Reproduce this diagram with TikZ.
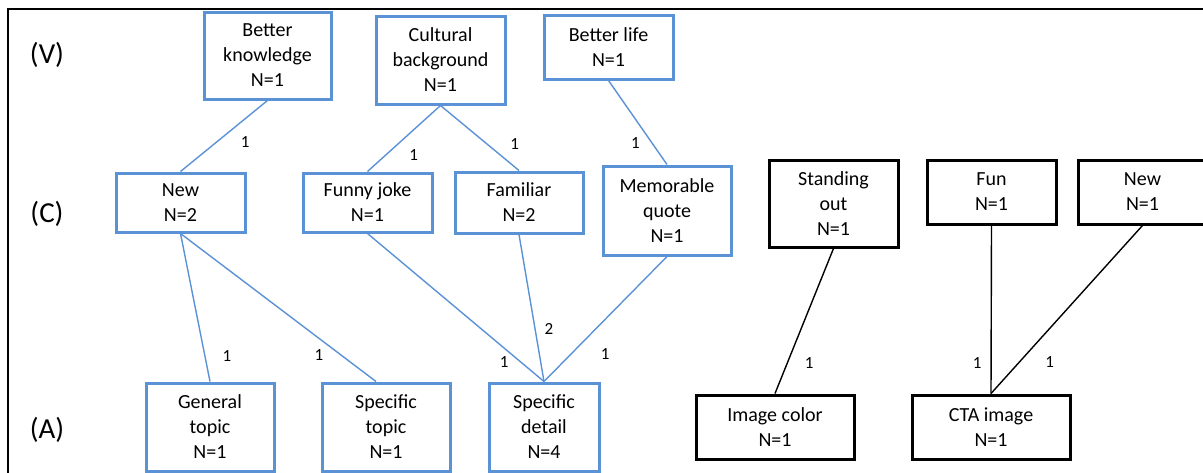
\documentclass[tikz,border=0pt]{standalone}
\usepackage{fontspec}
\setmainfont{Carlito}
\definecolor{boxblue}{RGB}{91,146,214}
\tikzset{
  bluebox/.style={draw=boxblue, line width=3pt, align=center, inner sep=0pt,
    font=\fontsize{20}{25}\selectfont, minimum width=#1},
  bluebox/.default=129pt,
  blackbox/.style={draw=black, line width=3pt, align=center, inner sep=0pt,
    font=\fontsize{20}{25}\selectfont, minimum width=#1},
  blackbox/.default=129pt,
  blueline/.style={draw=boxblue, line width=1.4pt},
  blackline/.style={draw=black, line width=1.4pt},
  cnt/.style={font=\fontsize{17}{19}\selectfont, inner sep=0pt},
  level/.style={font=\fontsize{29}{32}\selectfont, inner sep=0pt}
}
\begin{document}
\begin{tikzpicture}[x=1pt,y=-1pt]
\useasboundingbox (0,0) rectangle (1203,472);
\clip (0,0) rectangle (1203,472);
% outer frame
\draw[line width=2pt] (8,9) rectangle (1220,490);

% level labels
\node[level] (lv) at (47,55) {(V)};
\node[level] (lc) at (47,214) {(C)};
\node[level] (la) at (47,430) {(A)};

% values
\node[bluebox=127pt, minimum height=87pt] (bk) at (267.5,55.5) {Better\\knowledge\\N=1};
\node[bluebox, minimum height=88pt] (cb) at (440.5,60) {Cultural\\background\\N=1};
\node[bluebox, minimum height=64pt] (bl) at (608.5,47) {Better life\\N=1};

% consequences
\node[bluebox, minimum height=59pt] (newl) at (180.5,202.5) {New\\N=2};
\node[bluebox, minimum height=59pt] (fj) at (367.5,202.5) {Funny joke\\N=1};
\node[bluebox=128pt, minimum height=61pt] (fam) at (519,202.5) {Familiar\\N=2};
\node[bluebox=128pt, minimum height=89pt] (mq) at (667,210.5) {Memorable\\quote\\N=1};
\node[blackbox, minimum height=87pt] (so) at (833.5,203.5) {Standing\\out\\N=1};
\node[blackbox, minimum height=64pt] (fun) at (991.5,192) {Fun\\N=1};
\node[blackbox, minimum height=64pt] (newr) at (1142.5,192) {New\\N=1};

% attributes
\node[bluebox=128pt, minimum height=88pt] (gt) at (210,427) {General\\topic\\N=1};
\node[bluebox=128pt, minimum height=88pt] (st) at (386,427) {Specific\\topic\\N=1};
\node[bluebox=110pt, minimum height=88pt] (sd) at (544,427) {Specific\\detail\\N=4};
\node[blackbox=158pt, minimum height=64pt] (ic) at (775,427) {Image color\\N=1};
\node[blackbox=158pt, minimum height=64pt] (cta) at (991,427) {CTA image\\N=1};

% links
\draw[blueline] (bk.south) -- node[cnt, pos=0.59, xshift=29pt] {1} (newl.north);
\draw[blueline] (cb.south) -- node[cnt, pos=0.75, xshift=28pt] {1} (fj.north);
\draw[blueline] (cb.south) -- node[cnt, pos=0.6, xshift=27pt] {1} (fam.north);
\draw[blueline] (bl.south) -- node[cnt, pos=0.75, xshift=-17pt] {1} (mq.north);
\draw[blueline] (newl.south) -- node[cnt, pos=0.83, xshift=22pt] {1} (gt.north);
\draw[blueline] (newl.south) -- node[cnt, pos=0.82, xshift=-22pt] {1} ([xshift=-10pt]st.north);
\draw[blueline] (fj.south) -- node[cnt, pos=0.87, xshift=-17pt] {1} (sd.north);
\draw[blueline] (fam.south) -- node[cnt, pos=0.64, xshift=14pt] {2} (sd.north);
\draw[blueline] (mq.south) -- node[cnt, pos=0.78, xshift=34pt] {1} (sd.north);
\draw[blackline] (so.south) -- node[cnt, pos=0.79, xshift=22pt] {1} (ic.north);
\draw[blackline] (fun.south) -- node[cnt, pos=0.82, xshift=-14pt] {1} (cta.north);
\draw[blackline] (newr.south) -- node[cnt, pos=0.81, xshift=30pt] {1} (cta.north);
\end{tikzpicture}
\end{document}
